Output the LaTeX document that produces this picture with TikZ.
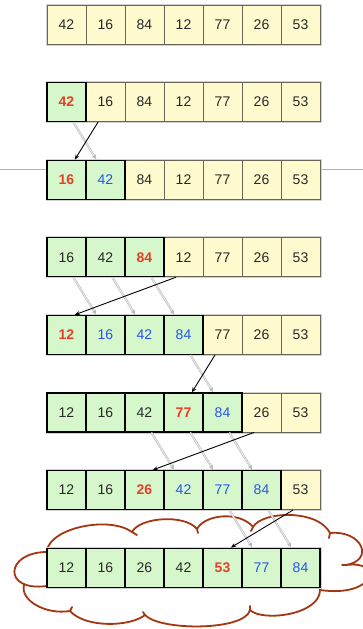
\documentclass[tikz,border=0pt]{standalone}
\usepackage{fontspec}
\setmainfont{Liberation Sans}
\usetikzlibrary{arrows.meta}
\definecolor{cellyellow}{RGB}{255,251,206}
\definecolor{cellgreen}{RGB}{213,247,203}
\definecolor{numred}{RGB}{232,64,40}
\definecolor{numblue}{RGB}{40,84,232}
\definecolor{numblack}{RGB}{40,40,40}
\definecolor{yborder}{RGB}{105,102,88}
\definecolor{cloudred}{RGB}{163,55,18}
\tikzset{
  cell/.style={minimum width=39pt, minimum height=39pt, inner sep=0pt,
    font=\fontsize{14}{14}\selectfont, text=numblack},
  ycell/.style={cell, fill=cellyellow, draw=yborder, line width=0.8pt},
  gcell/.style={cell, fill=cellgreen, draw=black, line width=1.3pt},
  gred/.style={gcell, text=numred, font=\fontsize{14}{14}\selectfont\bfseries},
  gblue/.style={gcell, text=numblue},
  rowshadow/.style={draw=gray!35, line width=2pt},
  moved/.style={draw=gray!55, line width=0.6pt, double=gray!15, double distance=0.9pt,
    -{Latex[length=4.5pt,width=4.5pt]}},
  inserted/.style={draw=black, line width=0.9pt, -{Stealth[length=5pt,width=4pt]}},
  cloudline/.style={draw=cloudred, line width=1.8pt, line cap=round, line join=round},
  guide/.style={draw=gray!60, line width=0.8pt},
}
\newcommand\arrayrow[2]{%
  \pgfmathsetmacro\rowy{-53.1+77.6*#1}%
  \draw[rowshadow] (46.5,{\rowy-20}) rectangle (320.5,{\rowy+20});
  \foreach \c/\s/\v in {#2} {\node[\s] (r#1c\c) at ({27.5+39*\c},\rowy) {\v};}
}
\newcommand\movearrow[4]{\draw[moved] ([xshift=27pt]r#1c#2.south west) -- ([xshift=11pt]r#3c#4.north west);}
\newcommand\insarrow[4]{\draw[inserted] ([xshift=12.5pt]r#1c#2.south west) -- ([xshift=28.5pt]r#3c#4.north west);}
\begin{document}
\begin{tikzpicture}[x=1pt,y=-1pt]
\useasboundingbox (0,0) rectangle (363,629);
% cloud behind the last row
\draw[cloudline]
  (47,550) .. controls (52,527) and (110,516) .. (132,532) -- ++(5,3)
  (132,532) .. controls (140,517) and (185,514) .. (197,529) -- ++(1,4)
  (197,529) .. controls (205,514) and (240,511) .. (253,527) -- ++(-2,4)
  (253,527) .. controls (262,511) and (318,509) .. (330,533) -- ++(-1,5)
  (330,533) .. controls (362,530) and (375,560) .. (346,565) -- ++(-4,0)
  (346,565) .. controls (385,560) and (375,598) .. (320,590) -- ++(0,-5)
  (320,590) .. controls (320,615) and (262,622) .. (250,610) -- ++(0,-4)
  (250,610) .. controls (245,631) and (160,631) .. (145,615) -- ++(-2,-3)
  (145,615) .. controls (130,627) and (85,628) .. (70,611) -- ++(2,-4)
  (70,611) .. controls (45,615) and (20,600) .. (24,585)
  (47,586) .. controls (2,592) and (5,552) .. (47,552);
% guide line through the third row
\coordinate (hl) at (0,169);
\coordinate (hr) at (363,169);
\draw[guide] (hl) -- (hr);
% rows (yellow cells first, green cells on top)
\arrayrow{1}{1/ycell/42,2/ycell/16,3/ycell/84,4/ycell/12,5/ycell/77,6/ycell/26,7/ycell/53}
\arrayrow{2}{2/ycell/16,3/ycell/84,4/ycell/12,5/ycell/77,6/ycell/26,7/ycell/53,1/gred/42}
\arrayrow{3}{3/ycell/84,4/ycell/12,5/ycell/77,6/ycell/26,7/ycell/53,1/gred/16,2/gblue/42}
\arrayrow{4}{4/ycell/12,5/ycell/77,6/ycell/26,7/ycell/53,1/gcell/16,2/gcell/42,3/gred/84}
\arrayrow{5}{5/ycell/77,6/ycell/26,7/ycell/53,1/gred/12,2/gblue/16,3/gblue/42,4/gblue/84}
\arrayrow{6}{6/ycell/26,7/ycell/53,1/gcell/12,2/gcell/16,3/gcell/42,4/gred/77,5/gblue/84}
\arrayrow{7}{7/ycell/53,1/gcell/12,2/gcell/16,3/gred/26,4/gblue/42,5/gblue/77,6/gblue/84}
\arrayrow{8}{1/gcell/12,2/gcell/16,3/gcell/26,4/gcell/42,5/gred/53,6/gblue/77,7/gblue/84}
% arrows
\movearrow{2}{1}{3}{2}
\insarrow{2}{2}{3}{1}
\movearrow{4}{1}{5}{2}
\movearrow{4}{2}{5}{3}
\movearrow{4}{3}{5}{4}
\insarrow{4}{4}{5}{1}
\movearrow{5}{4}{6}{5}
\insarrow{5}{5}{6}{4}
\movearrow{6}{3}{7}{4}
\movearrow{6}{4}{7}{5}
\movearrow{6}{5}{7}{6}
\insarrow{6}{6}{7}{3}
\movearrow{7}{5}{8}{6}
\movearrow{7}{6}{8}{7}
\insarrow{7}{7}{8}{5}
\end{tikzpicture}
\end{document}
